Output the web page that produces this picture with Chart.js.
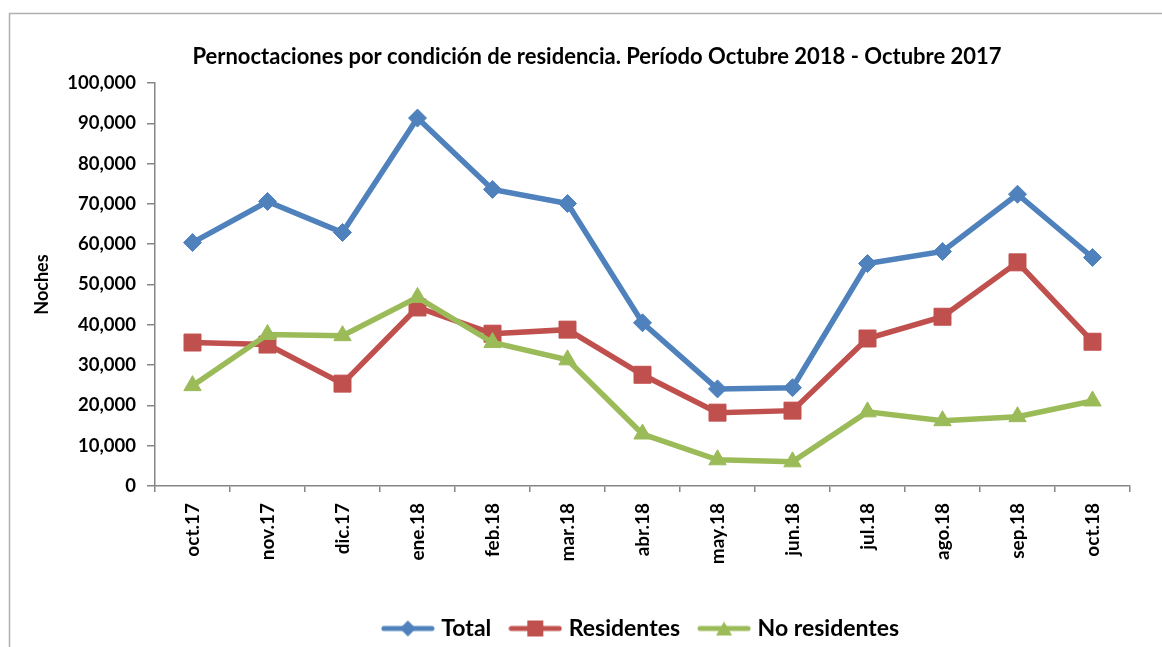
<!DOCTYPE html>
<html>
<head>
<meta charset="utf-8">
<script src="https://cdn.jsdelivr.net/npm/chart.js@4.4.1/dist/chart.umd.min.js"></script>
<style>
  html, body { margin: 0; padding: 0; background: #fff; }
  #contenedor { width: 1162px; height: 647px; }
</style>
</head>
<body>
<div id="contenedor"><canvas id="grafico"></canvas></div>
<script>
// datos
const meses = ['oct.17', 'nov.17', 'dic.17', 'ene.18', 'feb.18', 'mar.18', 'abr.18',
  'may.18', 'jun.18', 'jul.18', 'ago.18', 'sep.18', 'oct.18'];
const total = [60400, 70600, 62900, 91300, 73600, 70100, 40500, 24100, 24400, 55200, 58200, 72400, 56700];
const residentes = [35600, 35100, 25400, 44300, 37800, 38800, 27600, 18200, 18700, 36600, 42000, 55500, 35800];
const noResidentes = [24900, 37600, 37300, 46800, 35600, 31300, 12900, 6500, 6000, 18400, 16200, 17200, 21100];
const titulo = 'Pernoctaciones por condición de residencia. Período Octubre 2018 - Octubre 2017';

const fuente = 'Lato, "Open Sans", sans-serif';
const gris = '#868686';

// icono de leyenda: línea con marcador, como en Excel
const crearIcono = (color, estilo) => {
  const c = document.createElement('canvas');
  c.width = 54; c.height = 20;
  const ctx = c.getContext('2d');
  ctx.strokeStyle = color;
  ctx.lineWidth = 5;
  ctx.lineCap = 'round';
  ctx.beginPath(); ctx.moveTo(3, 10); ctx.lineTo(51, 10); ctx.stroke();
  ctx.fillStyle = color;
  ctx.beginPath();
  if (estilo === 'rectRot') {
    ctx.moveTo(27, 2); ctx.lineTo(35, 10); ctx.lineTo(27, 18); ctx.lineTo(19, 10);
  } else if (estilo === 'rect') {
    ctx.rect(19, 2, 16, 16);
  } else {
    ctx.moveTo(27, 3); ctx.lineTo(35, 17); ctx.lineTo(19, 17);
  }
  ctx.closePath(); ctx.fill();
  return c;
};

const series = [
  { label: 'Total', data: total, color: '#4F81BD', estilo: 'rectRot', radio: 9, orden: 2 },
  { label: 'Residentes', data: residentes, color: '#C0504D', estilo: 'rect', radio: 12, orden: 1 },
  { label: 'No residentes', data: noResidentes, color: '#9BBB59', estilo: 'triangle', radio: 10, orden: 0 }
];

const marco = {
  id: 'marco',
  beforeDraw(chart) {
    const ctx = chart.ctx;
    ctx.save();
    ctx.strokeStyle = '#b0b0b0';
    ctx.lineWidth = 1.5;
    ctx.beginPath();
    ctx.moveTo(9.5, chart.height + 2);
    ctx.lineTo(9.5, 13.5);
    ctx.lineTo(chart.width + 2, 13.5);
    ctx.stroke();
    ctx.restore();
  },
  afterDraw(chart) {
    const ctx = chart.ctx;
    ctx.save();
    ctx.font = 'bold 22px ' + fuente;
    ctx.fillStyle = '#000';
    ctx.textAlign = 'center';
    ctx.textBaseline = 'middle';
    ctx.fillText(titulo, chart.width / 2 + 16, 57);
    ctx.restore();
  }
};

new Chart(document.getElementById('grafico'), {
  type: 'line',
  data: {
    labels: meses,
    datasets: series.map(s => ({
      label: s.label,
      data: s.data,
      order: s.orden,
      borderColor: s.color,
      backgroundColor: s.color,
      borderWidth: 5.5,
      tension: 0,
      pointStyle: s.estilo,
      pointRadius: s.radio,
      pointHoverRadius: s.radio,
      pointBorderWidth: 1,
      pointBackgroundColor: s.color,
      pointBorderColor: s.color,
      fill: false
    }))
  },
  options: {
    responsive: true,
    maintainAspectRatio: false,
    animation: false,
    layout: { padding: { top: 83, left: 12, right: 32, bottom: -3 } },
    plugins: {
      tooltip: { enabled: false },
      title: { display: false },
      legend: {
        position: 'bottom',
        fullSize: false,
        labels: {
          font: { family: fuente, size: 23, weight: 'bold' },
          color: '#000',
          usePointStyle: true,
          pointStyleWidth: 44,
          padding: 22,
          generateLabels: () => series.map((s, i) => ({
            text: s.label,
            pointStyle: crearIcono(s.color, s.estilo),
            fillStyle: s.color,
            strokeStyle: s.color,
            lineWidth: 0,
            datasetIndex: i,
            fontColor: '#000'
          }))
        }
      }
    },
    scales: {
      x: {
        offset: true,
        grid: { offset: true, drawOnChartArea: false, drawTicks: true, tickLength: 6, color: gris, lineWidth: 1.5 },
        border: { color: gris, width: 1.5 },
        ticks: {
          minRotation: 90, maxRotation: 90, autoSkip: false, padding: 11,
          color: '#000', font: { family: fuente, size: 19, weight: 'bold' }
        },
        afterFit: (escala) => { escala.height = 109; }
      },
      y: {
        min: 0, max: 100000,
        grid: { drawOnChartArea: false, drawTicks: true, tickLength: 8, color: gris, lineWidth: 1.5 },
        border: { color: gris, width: 1.5 },
        ticks: {
          stepSize: 10000, padding: 11, color: '#000',
          font: { family: fuente, size: 18.5, weight: 'bold' },
          callback: v => v.toLocaleString('en-US')
        },
        title: {
          display: true, text: 'Noches', color: '#000',
          font: { family: fuente, size: 18, weight: 'bold' },
          padding: { top: 19, bottom: 0 }
        },
        afterFit: (escala) => { escala.width = 143; }
      }
    }
  },
  plugins: [marco]
});
</script>
</body>
</html>
